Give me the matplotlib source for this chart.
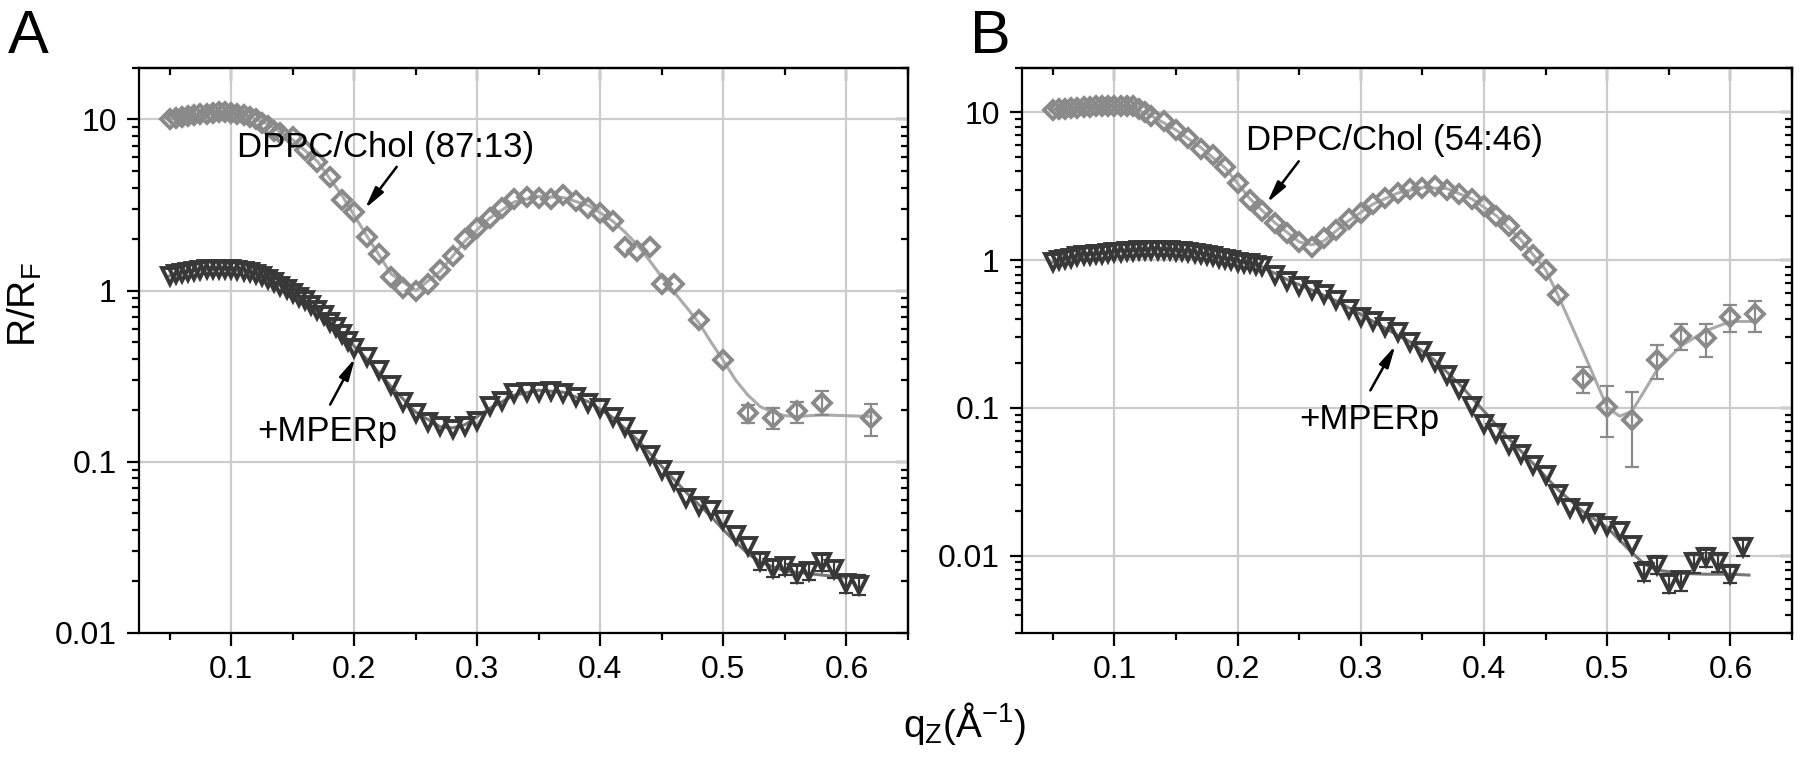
import numpy as np
import matplotlib
matplotlib.use("Agg")
import matplotlib.pyplot as plt
from matplotlib.ticker import FixedLocator, LogLocator, NullFormatter, FuncFormatter

plt.rcParams['font.family'] = ['Liberation Sans', 'DejaVu Sans']
plt.rcParams['mathtext.fontset'] = 'custom'
plt.rcParams['mathtext.rm'] = 'Liberation Sans'
plt.rcParams['mathtext.it'] = 'Liberation Sans:italic'

# ---------------- Panel A data ----------------
qA_d = [0.050, 0.055, 0.060, 0.065, 0.070, 0.075, 0.080, 0.085, 0.090, 0.095, 0.100, 0.105,
        0.110, 0.115, 0.120, 0.125, 0.130, 0.135, 0.140, 0.150, 0.160, 0.170, 0.180, 0.190,
        0.200, 0.210, 0.220, 0.230, 0.240, 0.250, 0.260, 0.270, 0.280, 0.290, 0.300, 0.310,
        0.320, 0.330, 0.340, 0.350, 0.360, 0.370, 0.380, 0.390, 0.400, 0.410, 0.420, 0.430,
        0.440, 0.450, 0.460, 0.480, 0.500, 0.520, 0.540, 0.560, 0.580, 0.620]
RA_d = [10.0, 10.2, 10.4, 10.5, 10.6, 10.7, 10.8, 10.9, 11.0, 11.0, 10.9, 10.8,
        10.6, 10.4, 10.1, 9.6, 9.2, 8.6, 8.3, 7.9, 6.6, 5.65, 4.6, 3.4,
        2.87, 2.06, 1.63, 1.2, 1.03, 1.0, 1.1, 1.32, 1.6, 2.0, 2.31, 2.64,
        3.02, 3.41, 3.53, 3.46, 3.41, 3.61, 3.33, 3.02, 2.83, 2.56, 1.79, 1.71,
        1.79, 1.1, 1.09, 0.67, 0.394, 0.193, 0.18, 0.197, 0.222, 0.18]
# error bars on the last five points
RA_d_lo = [0.169, 0.155, 0.168, 0.188, 0.142]
RA_d_hi = [0.216, 0.206, 0.225, 0.258, 0.218]

qA_dfit = [0.05, 0.07, 0.09, 0.11, 0.13, 0.15, 0.17, 0.19, 0.21, 0.23, 0.25, 0.27, 0.29, 0.31,
           0.33, 0.35, 0.37, 0.39, 0.40, 0.41, 0.42, 0.43, 0.44, 0.45, 0.46, 0.47, 0.48, 0.49,
           0.50, 0.51, 0.52, 0.53, 0.54, 0.55, 0.56, 0.58, 0.60, 0.62]
RA_dfit = [10.0, 10.6, 11.0, 10.7, 9.4, 7.6, 5.7, 3.6, 2.1, 1.25, 1.0, 1.3, 1.95, 2.65,
           3.3, 3.55, 3.5, 3.15, 2.85, 2.55, 2.2, 1.85, 1.5, 1.2, 0.98, 0.8, 0.65, 0.5,
           0.39, 0.3, 0.245, 0.21, 0.195, 0.186, 0.184, 0.188, 0.186, 0.184]

qA_t = [0.050, 0.055, 0.060, 0.065, 0.070, 0.075, 0.080, 0.085, 0.090, 0.095, 0.100, 0.105,
        0.110, 0.115, 0.120, 0.125, 0.130, 0.135, 0.140, 0.145, 0.150, 0.155, 0.160, 0.165,
        0.170, 0.175, 0.180, 0.185, 0.190, 0.195, 0.200,
        0.21, 0.22, 0.23, 0.24, 0.25, 0.26, 0.27, 0.28, 0.29, 0.30, 0.31, 0.32, 0.33, 0.34,
        0.35, 0.36, 0.37, 0.38, 0.39, 0.40, 0.41, 0.42, 0.43, 0.44, 0.45, 0.46, 0.47, 0.48,
        0.49, 0.50, 0.51, 0.52, 0.53, 0.54, 0.55, 0.56, 0.57, 0.58, 0.59, 0.60, 0.61]
RA_t = [1.22, 1.25, 1.27, 1.29, 1.31, 1.32, 1.33, 1.34, 1.34, 1.34, 1.33, 1.32,
        1.30, 1.28, 1.25, 1.21, 1.17, 1.12, 1.07, 1.02, 0.97, 0.92, 0.88, 0.82,
        0.77, 0.72, 0.66, 0.61, 0.56, 0.51, 0.46,
        0.41, 0.345, 0.282, 0.225, 0.193, 0.172, 0.161, 0.156, 0.162, 0.174, 0.213, 0.228, 0.252, 0.255,
        0.256, 0.261, 0.252, 0.239, 0.222, 0.206, 0.183, 0.160, 0.134, 0.110, 0.090, 0.077, 0.0616, 0.0555,
        0.0526, 0.046, 0.0376, 0.0323, 0.0262, 0.0240, 0.0246, 0.0223, 0.0230, 0.0259, 0.0237, 0.0195, 0.0192]
RA_t_lo = [0.0232, 0.0213, 0.0218, 0.0197, 0.0203, 0.0229, 0.0209, 0.0171, 0.0167]
RA_t_hi = [0.0292, 0.0267, 0.0274, 0.0249, 0.0257, 0.0289, 0.0265, 0.0219, 0.0217]

qA_tfit = [0.05, 0.07, 0.09, 0.11, 0.13, 0.15, 0.17, 0.19, 0.21, 0.23, 0.25, 0.27, 0.28, 0.29,
           0.31, 0.33, 0.35, 0.37, 0.39, 0.41, 0.43, 0.45, 0.47, 0.49, 0.50, 0.51, 0.52, 0.53,
           0.55, 0.58, 0.60]
RA_tfit = [1.22, 1.31, 1.34, 1.30, 1.17, 0.97, 0.77, 0.56, 0.40, 0.275, 0.195, 0.160, 0.158, 0.165,
           0.205, 0.245, 0.262, 0.255, 0.225, 0.182, 0.135, 0.094, 0.066, 0.048, 0.040, 0.034, 0.029, 0.026,
           0.023, 0.0218, 0.0211]

# ---------------- Panel B data ----------------
qB_d = [0.050, 0.055, 0.060, 0.065, 0.070, 0.075, 0.080, 0.085, 0.090, 0.095, 0.100, 0.105,
        0.110, 0.115, 0.120, 0.125, 0.130, 0.140, 0.150, 0.160, 0.170, 0.180, 0.190, 0.200,
        0.210, 0.220, 0.230, 0.240, 0.250, 0.260, 0.270, 0.280, 0.290, 0.300, 0.310, 0.320,
        0.330, 0.340, 0.350, 0.360, 0.370, 0.380, 0.390, 0.400, 0.410, 0.420, 0.430, 0.440,
        0.450, 0.460, 0.480, 0.500, 0.520, 0.540, 0.560, 0.580, 0.600, 0.620]
RB_d = [10.4, 10.5, 10.6, 10.7, 10.8, 10.9, 10.9, 11.0, 11.0, 11.0, 11.0, 11.1,
        11.1, 11.0, 10.6, 10.1, 9.5, 8.7, 7.64, 6.71, 5.7, 5.19, 4.3, 3.34,
        2.54, 2.15, 1.79, 1.53, 1.33, 1.23, 1.41, 1.59, 1.89, 2.09, 2.39, 2.62,
        2.86, 3.01, 3.06, 3.17, 2.98, 2.79, 2.58, 2.32, 1.99, 1.70, 1.37, 1.08,
        0.86, 0.58, 0.158, 0.101, 0.0834, 0.212, 0.309, 0.298, 0.415, 0.432]
RB_d_lo = [0.126, 0.064, 0.040, 0.158, 0.245, 0.223, 0.325, 0.328]
RB_d_hi = [0.190, 0.140, 0.128, 0.267, 0.370, 0.370, 0.499, 0.531]

qB_dfit = [0.05, 0.07, 0.09, 0.11, 0.13, 0.15, 0.17, 0.19, 0.21, 0.23, 0.25, 0.26, 0.27, 0.29,
           0.31, 0.33, 0.35, 0.37, 0.39, 0.41, 0.43, 0.45, 0.46, 0.48, 0.50, 0.51, 0.52, 0.53,
           0.54, 0.56, 0.58, 0.60, 0.62]
RB_dfit = [10.4, 10.8, 11.0, 11.1, 9.5, 7.6, 5.8, 4.2, 2.6, 1.8, 1.33, 1.27, 1.35, 1.85,
           2.4, 2.85, 3.1, 3.05, 2.6, 2.0, 1.37, 0.86, 0.58, 0.245, 0.101, 0.088, 0.095, 0.13,
           0.179, 0.264, 0.333, 0.385, 0.385]

qB_t = [0.050, 0.055, 0.060, 0.065, 0.070, 0.075, 0.080, 0.085, 0.090, 0.095, 0.100, 0.105,
        0.110, 0.115, 0.120, 0.125, 0.130, 0.135, 0.140, 0.145, 0.150, 0.155, 0.160, 0.165,
        0.170, 0.175, 0.180, 0.185, 0.190, 0.195, 0.200, 0.205, 0.210, 0.215, 0.220,
        0.23, 0.24, 0.25, 0.26, 0.27, 0.28, 0.29, 0.30, 0.31, 0.32, 0.33, 0.34, 0.35, 0.36,
        0.37, 0.38, 0.39, 0.40, 0.41, 0.42, 0.43, 0.44, 0.45, 0.46, 0.47, 0.48, 0.49, 0.50,
        0.51, 0.52, 0.53, 0.54, 0.55, 0.56, 0.57, 0.58, 0.59, 0.60, 0.61]
RB_t = [0.97, 1.00, 1.02, 1.04, 1.06, 1.08, 1.09, 1.10, 1.11, 1.12, 1.13, 1.14,
        1.15, 1.16, 1.17, 1.17, 1.18, 1.18, 1.18, 1.17, 1.16, 1.15, 1.14, 1.12,
        1.10, 1.08, 1.06, 1.04, 1.02, 1.00, 0.98, 0.96, 0.95, 0.93, 0.92,
        0.80, 0.72, 0.67, 0.63, 0.587, 0.54, 0.47, 0.41, 0.386, 0.351, 0.325, 0.278, 0.242, 0.204,
        0.166, 0.135, 0.1025, 0.0775, 0.068, 0.0565, 0.049, 0.041, 0.035, 0.026, 0.021, 0.0197, 0.0166, 0.0159,
        0.0147, 0.0118, 0.0078, 0.0087, 0.0065, 0.0068, 0.0090, 0.0098, 0.0091, 0.0075, 0.0115]
RB_t_lo = [0.0067, 0.0075, 0.0056, 0.0058, 0.0077, 0.0084, 0.0078, 0.0065, 0.0099]
RB_t_hi = [0.0090, 0.0100, 0.0075, 0.0078, 0.0104, 0.0113, 0.0105, 0.0086, 0.0132]

qB_tfit = [0.05, 0.08, 0.11, 0.14, 0.17, 0.20, 0.22, 0.24, 0.26, 0.28, 0.30, 0.32, 0.34, 0.36,
           0.38, 0.40, 0.42, 0.44, 0.46, 0.48, 0.50, 0.52, 0.53, 0.54, 0.56, 0.58, 0.60, 0.615]
RB_tfit = [0.97, 1.09, 1.15, 1.18, 1.10, 0.98, 0.90, 0.74, 0.63, 0.53, 0.43, 0.345, 0.28, 0.21,
           0.145, 0.095, 0.062, 0.042, 0.028, 0.020, 0.0155, 0.0105, 0.0088, 0.0080, 0.0076, 0.0075, 0.0075, 0.0074]

xticks = [0.1, 0.2, 0.3, 0.4, 0.5, 0.6]
xtick_labels = ['0.1', '0.2', '0.3', '0.4', '0.5', '0.6']
xminor = [0.05, 0.15, 0.25, 0.35, 0.45, 0.55, 0.65]
yticks = [0.01, 0.1, 1, 10]
ytick_labels = ['0.01', '0.1', '1', '10']

C_DIA = '#8a8a8a'
C_DIA_FIT = '#ababab'
C_TRI = '#383838'
C_TRI_FIT = '#777777'

fig = plt.figure(figsize=(18, 7.61), dpi=100)
axA = fig.add_axes([0.0772, 0.1682, 0.4272, 0.7425])
axB = fig.add_axes([0.5678, 0.1682, 0.4278, 0.7425])


def xfmt(v, p):
    for t, l in zip(xticks, xtick_labels):
        if abs(v - t) < 1e-6:
            return l
    return ''


def yfmt(v, p):
    for t, l in zip(yticks, ytick_labels):
        if abs(np.log10(v) - np.log10(t)) < 1e-6:
            return l
    return ''


def style_axis(ax, ylim):
    ax.set_yscale('log')
    ax.set_xlim(0.025, 0.65)
    ax.set_ylim(*ylim)
    ax.xaxis.set_major_locator(FixedLocator(xticks))
    ax.xaxis.set_major_formatter(FuncFormatter(xfmt))
    ax.xaxis.set_minor_locator(FixedLocator(xminor))
    ax.yaxis.set_major_locator(FixedLocator(yticks))
    ax.yaxis.set_major_formatter(FuncFormatter(yfmt))
    ax.yaxis.set_minor_locator(LogLocator(base=10, subs=np.arange(2, 10), numticks=20))
    ax.yaxis.set_minor_formatter(NullFormatter())
    ax.grid(True, which='major', color='#cccccc', lw=1.6, zorder=0)
    ax.set_axisbelow(True)
    for s in ax.spines.values():
        s.set_linewidth(1.6)
        s.set_zorder(5)
    ax.tick_params(which='both', direction='out', width=1.6, labelsize=23, pad=7, top=False, right=False)
    ax.tick_params(which='major', length=9)
    ax.tick_params(which='minor', length=5)
    # mirrored ticks pointing inward
    sx = ax.secondary_xaxis('top')
    sx.xaxis.set_major_locator(FixedLocator(xticks))
    sx.xaxis.set_minor_locator(FixedLocator(xminor))
    sx.tick_params(which='both', direction='in', width=1.6, labeltop=False)
    sx.tick_params(which='major', length=9)
    sx.tick_params(which='minor', length=5)
    sx.spines['top'].set_linewidth(1.6)
    sy = ax.secondary_yaxis('right')
    sy.yaxis.set_major_locator(FixedLocator(yticks))
    sy.yaxis.set_minor_locator(LogLocator(base=10, subs=np.arange(2, 10), numticks=20))
    sy.yaxis.set_minor_formatter(NullFormatter())
    sy.tick_params(which='both', direction='in', width=1.6, labelright=False)
    sy.tick_params(which='major', length=9)
    sy.tick_params(which='minor', length=5)
    sy.spines['right'].set_linewidth(1.6)


def draw_series(ax, q, R, qfit, Rfit, lo, hi, marker, color, fitcolor, ms, mew):
    ax.plot(qfit, Rfit, '-', color=fitcolor, lw=2.2, zorder=2)
    n = len(lo)
    qe = np.array(q[-n:])
    Re = np.array(R[-n:])
    ax.errorbar(qe, Re, yerr=[Re - np.array(lo), np.array(hi) - Re], fmt='none',
                ecolor=color, elinewidth=1.6, capsize=5, capthick=1.6, zorder=3)
    ax.plot(q, R, linestyle='none', marker=marker, ms=ms, mfc='none', mec=color, mew=mew, zorder=4)


style_axis(axA, (0.01, 20))
style_axis(axB, (0.003, 20))

draw_series(axA, qA_d, RA_d, qA_dfit, RA_dfit, RA_d_lo, RA_d_hi, 'D', C_DIA, C_DIA_FIT, 9.5, 2.8)
draw_series(axA, qA_t, RA_t, qA_tfit, RA_tfit, RA_t_lo, RA_t_hi, 'v', C_TRI, C_TRI_FIT, 11, 2.8)
draw_series(axB, qB_d, RB_d, qB_dfit, RB_dfit, RB_d_lo, RB_d_hi, 'D', C_DIA, C_DIA_FIT, 9.5, 2.8)
draw_series(axB, qB_t, RB_t, qB_tfit, RB_tfit, RB_t_lo, RB_t_hi, 'v', C_TRI, C_TRI_FIT, 11, 2.8)

arrow = dict(arrowstyle='-|>,head_width=0.3,head_length=1.3', color='black', lw=1.8, shrinkA=0, shrinkB=0)

axA.text(0.1047, 6.02, 'DPPC/Chol (87:13)', fontsize=25, ha='left', va='baseline', zorder=6)
axA.annotate('', xy=(0.2088, 3.02), xytext=(0.2345, 5.29), arrowprops=arrow, zorder=6)
axA.text(0.1209, 0.132, '+MPERp', fontsize=25, ha='left', va='baseline', zorder=6)
axA.annotate('', xy=(0.2006, 0.403), xytext=(0.1804, 0.216), arrowprops=arrow, zorder=6)

axB.text(0.2064, 5.61, 'DPPC/Chol (54:46)', fontsize=25, ha='left', va='baseline', zorder=6)
axB.annotate('', xy=(0.224, 2.45), xytext=(0.2496, 4.67), arrowprops=arrow, zorder=6)
axB.text(0.2496, 0.0725, '+MPERp', fontsize=25, ha='left', va='baseline', zorder=6)
axB.annotate('', xy=(0.328, 0.264), xytext=(0.3077, 0.1315), arrowprops=arrow, zorder=6)

fig.text(8 / 1800, 1 - 53 / 761, 'A', fontsize=44, ha='left', va='baseline')
fig.text(970 / 1800, 1 - 53 / 761, 'B', fontsize=44, ha='left', va='baseline')

fig.text(0.536, (761 - 737) / 761, 'q$_{\\mathrm{Z}}$(Å$^{\\mathrm{-1}}$)', fontsize=28, ha='center', va='baseline')
fig.text(25 / 1800, 0.6, 'R/R$_{\\mathrm{F}}$', fontsize=28, rotation=90, ha='center', va='center')

fig.savefig('out.png', dpi=100)
